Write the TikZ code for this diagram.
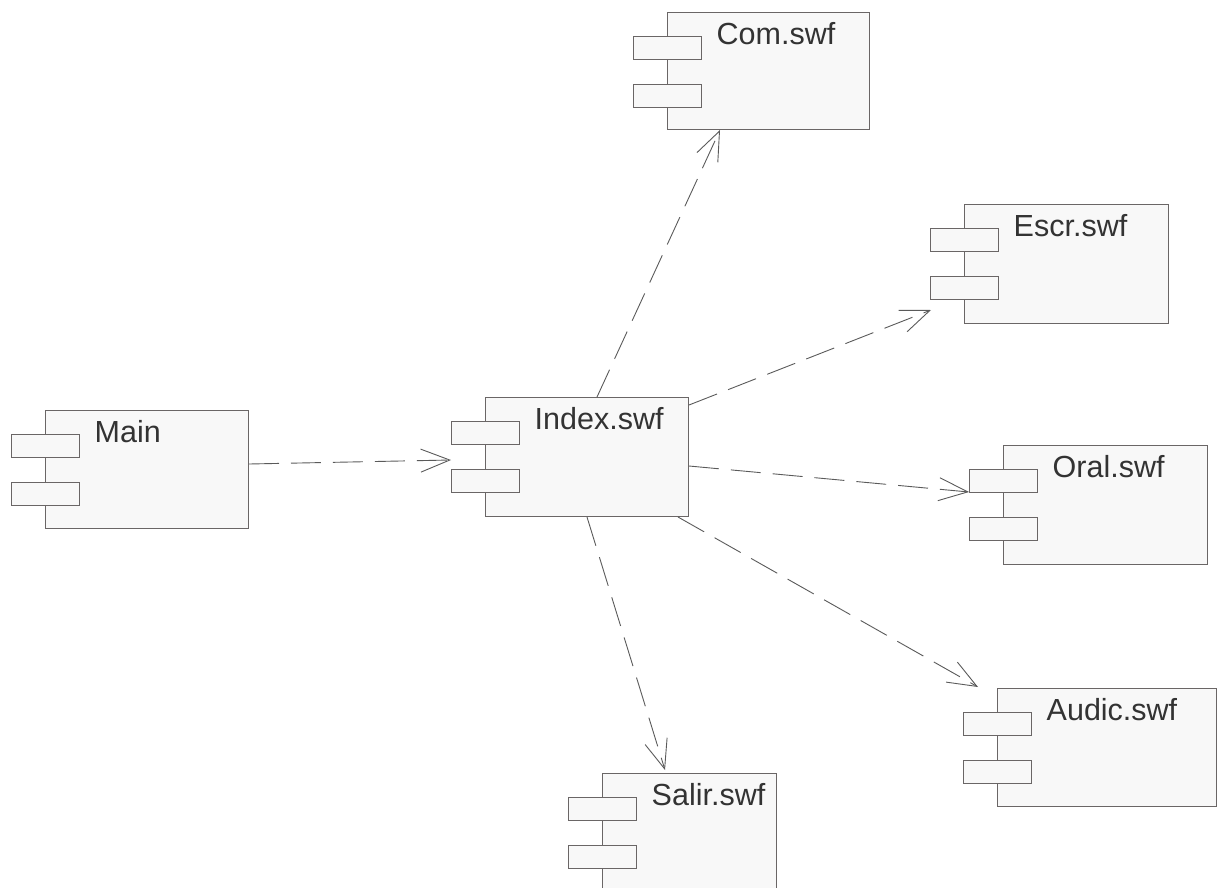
\documentclass[tikz,border=0pt]{standalone}
\usepackage{fontspec}
\setmainfont{Liberation Sans}
\usetikzlibrary{calc,arrows.meta}
\definecolor{boxfill}{HTML}{F8F8F8}
\definecolor{boxline}{HTML}{6A6666}
\definecolor{txt}{HTML}{333333}
\definecolor{conn}{HTML}{5A5A5A}
\tikzset{
  body/.style={draw=boxline,fill=boxfill,line width=1pt,anchor=north west,inner sep=0pt},
  port/.style={draw=boxline,fill=boxfill,line width=1pt,anchor=north west,inner sep=0pt,minimum width=68pt,minimum height=23pt},
  lbl/.style={anchor=base west,inner sep=0pt,text=txt,font=\fontsize{30.5}{36}\selectfont},
  dep/.style={draw=conn,line width=0.9pt,dash pattern=on 30pt off 12pt,-{Straight Barb[length=29pt,width=23pt,line width=0.9pt]}}
}
\newcommand{\umlcomp}[6]{%
  \node[body,minimum width=#4pt,minimum height=#5pt] (#1) at (#2,#3) {};
  \node[port] (#1-p1) at ($(#1.north west)+(-34,24)$) {};
  \node[port] (#1-p2) at ($(#1.north west)+(-34,72)$) {};
  \node[lbl] (#1-t) at ($(#1.north west)+(49.5,32.5)$) {#6};
}
\begin{document}
\begin{tikzpicture}[x=1pt,y=-1pt]
\useasboundingbox (0,0) rectangle (1217,888);
\clip (0,0) rectangle (1217,888);
\umlcomp{main}{45}{410}{203}{118}{Main}
\umlcomp{index}{485}{397}{203}{119}{Index.swf}
\umlcomp{com}{667}{12}{202}{117}{Com.swf}
\umlcomp{escr}{964}{204}{204}{119}{Escr.swf}
\umlcomp{oral}{1003}{445}{204}{119}{Oral.swf}
\umlcomp{audic}{997}{688}{219}{118}{Audic.swf}
\umlcomp{salir}{602}{773}{174}{130}{Salir.swf}
\draw[dep] ($(main.north east)+(0,54)$) -- ($(index.north west)+(-34,63)$);
\draw[dep] ($(index.north west)+(112,0)$) -- ($(com.south west)+(53,0)$);
\draw[dep] ($(index.north east)+(0,8)$) -- ($(escr.south west)+(-33,-14)$);
\draw[dep] ($(index.north east)+(0,69)$) -- ($(oral.north west)+(-34,47)$);
\draw[dep] ($(index.south east)+(-11,0)$) -- ($(audic.north west)+(-19,-1)$);
\draw[dep] ($(index.south west)+(102,0)$) -- ($(salir.north west)+(63,-3)$);
\end{tikzpicture}
\end{document}
